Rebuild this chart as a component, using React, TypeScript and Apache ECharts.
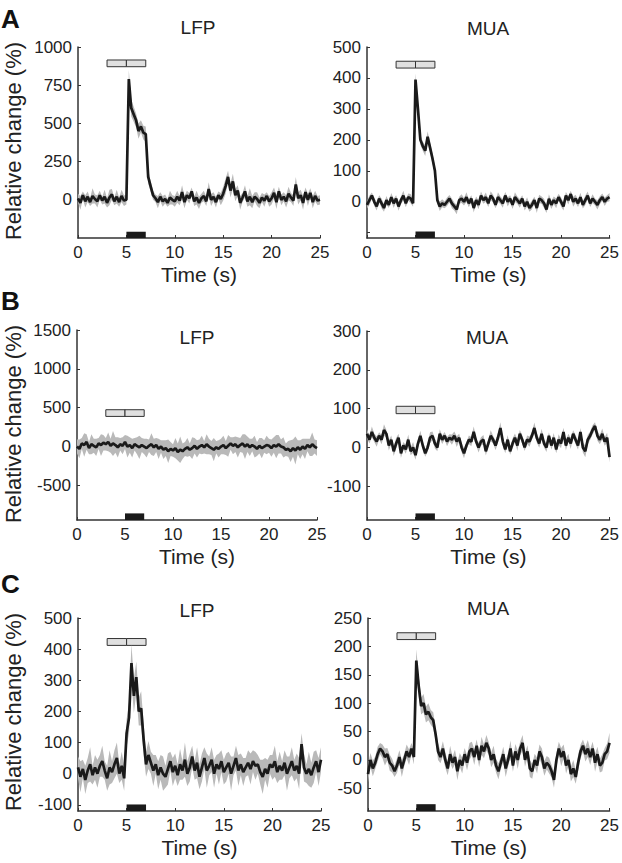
import React, { useEffect, useRef } from "react";
import * as echarts from "echarts";

// Sample grid: 0 .. 25 s, every 0.25 s
const TIME = Array.from({ length: 101 }, (_, i) => i * 0.25);

// Row A
const A_LFP = [10,-20,30,-10, 20,-15,25,5, -10,30,-5,20, -20,15,35,-10, 20,-15,25,-5, 0,790,600,560, 520,450,480,440, 430,150,90,30, 10,-15,20,-10, 5,-20,15,0, -10,20,-5,50, -15,30,10,55, -10,15,-20,10, 25,-10,70,0, 20,-15,30,5, 40,90,150,60, 120,30,60,-20, 15,55,-10,20, -15,20,5,-20, 15,-5,25,-10, 10,45,-15,55, 0,20,-10,40, 15,-5,100,10, 30,-20,50,0, 45,-15,25,-5, 0];
const A_LFP_SEM = [30,45,25,40, 35,25,50,30, 40,30,25,45, 30,50,35,25, 45,30,40,35, 30,60,55,50, 45,50,40,45, 50,45,35,30, 25,40,30,35, 30,25,45,30, 35,40,30,45, 40,30,35,25, 30,45,40,30, 35,30,45,40, 30,35,25,40, 45,50,40,45, 50,40,35,45, 30,40,35,55, 40,30,45,35, 30,40,25,35, 40,35,45,30, 35,30,40,45, 30,35,50,40, 35,45,30,40, 30,40,35,30, 30];
const A_MUA = [-10,5,20,0, -15,10,-5,-20, 5,-10,15,-5, 10,-15,5,20, -5,15,10,-5, 395,300,200,180, 165,210,175,140, 100,5,-15,-5, -10,0,10,-5, -15,-25,5,10, 0,15,-5,10, -20,5,-10,20, 5,15,-5,20, 10,-10,15,5, -5,20,0,10, -10,15,5,-5, 10,-15,0,-20, -10,5,-20,10, 5,-5,-25,10, -10,5,-5,15, 0,-15,20,5, 25,0,10,-5, 15,-10,5,20, -5,10,0,-10, 5,15,0,10, 15];
const A_MUA_SEM = [
  12,15,10,14, 13,11,16,12, 14,10,13,15, 11,14,12,16, 13,12,15,11,
  20,18,16,15, 17,18,15,16, 14,12,15,13, 11,14,12,16, 13,15,11,14,
  12,16,13,11, 15,12,14,13, 11,15,12,14, 13,11,16,12, 14,12,15,11,
  13,16,12,14, 11,13,15,12, 14,11,16,13, 12,15,11,14, 13,12,16,11,
  15,13,12,14, 11,16,13,12, 14,12,15,13, 12,14,11,15, 13,12,14,11,
  13,
];

// Row B
const B_LFP = [0,-30,40,20, 60,-20,30,10, -10,40,20,50, 30,60,10,40, 20,-10,30,10, 60,0,20,-20, 30,10,-10,20, 0,-20,10,30, -10,20,-30,0, -40,-20,-60,-30, -50,-20,-70,-40, -60,-30,-10,-40, -20,10,-30,0, 20,-10,30,0, -20,-40,-10,-30, 0,20,-20,10, 40,10,30,-10, 20,40,0,30, -10,20,0,-30, 10,-20,0,20, 10,-20,20,0, 30,0,-10,-40, -30,-60,-20,-50, -10,-40,0,-30, 20,-10,30,0, -20];
const B_LFP_SEM = [90,120,70,150, 100,80,130,90, 110,70,140,100, 80,120,90,160, 100,130,80,110, 90,140,100,120, 80,110,150,90, 100,120,80,140, 110,90,130,80, 120,100,150,90, 80,130,110,170, 100,90,120,80, 140,100,110,90, 120,80,130,100, 90,150,80,110, 100,120,90,140, 80,110,100,130, 90,120,160,100, 110,80,140,90, 100,130,80,120, 90,110,100,150, 120,90,130,80, 100,140,110,180, 90,120,100,130, 80,110,150,90, 100];
const B_MUA = [35,20,40,25, 15,30,20,45, 35,5,20,-10, 10,25,-15,5, -5,20,-10,0, -20,10,30,5, -15,0,25,30, 10,0,35,20, 30,15,25,20, 30,15,25,0, -15,5,20,15, 40,15,0,15, 20,-10,10,30, 20,5,25,50, 15,-5,20,-10, 10,25,5,35, 20,0,20,15, 30,50,25,10, 35,10,0,30, 5,25,-5,20, 10,40,5,25, 10,35,20,5, 40,0,-10,20, 30,45,55,30, 20,35,15,25, -25];
const B_MUA_SEM = [
  12,10,14,11, 13,9,12,15, 10,13,11,12, 14,10,12,9, 11,13,10,14,
  12,11,13,10, 9,12,14,11, 13,10,12,11, 10,12,9,13, 11,14,10,12,
  13,9,11,12, 14,10,13,11, 12,11,9,14, 10,12,13,15, 11,10,12,9,
  13,11,14,10, 12,9,11,13, 10,14,12,11, 13,10,12,9, 11,12,10,14,
  12,11,13,10, 14,9,12,11, 10,13,15,12, 11,12,10,13, 12,14,11,13,
  14,
];

// Row C
const C_LFP = [20,-10,15,-20, 10,30,-5,20, 0,25,40,10, -15,20,5,30, 50,0,25,-15, 130,180,355,250, 310,200,210,110, 30,60,35,10, 30,-5,20,0, -10,15,40,5, 25,-5,30,10, 45,0,20,55, 10,35,-10,20, 50,10,25,45, 0,30,15,40, 5,20,35,0, 25,50,10,30, 5,20,35,15, 40,25,30,5, -10,15,0,30, 20,40,5,25, 10,35,0,20, 40,10,25,0, 95,20,0,15, -5,20,40,5, 45];
const C_LFP_SEM = [
  35,50,30,45, 40,55,30,40, 45,35,50,30, 40,55,35,45, 50,30,45,40,
  45,50,60,55, 50,45,55,50, 40,45,35,50, 30,45,40,55, 35,50,30,45,
  40,35,50,30, 55,40,45,35, 30,50,40,45, 35,55,30,40, 45,30,50,35,
  40,45,35,55, 30,40,50,35, 45,30,40,50, 35,45,30,40, 55,35,45,30,
  40,50,35,45, 30,40,55,35, 45,35,40,50, 35,45,30,55, 40,50,35,45,
  40,
];
const C_MUA = [-25,0,-15,-5, 10,20,15,5, 10,-5,-10,-20, -10,5,-15,0, 15,5,20,5, 175,130,95,100, 80,85,75,70, 45,15,5,20, 0,-15,10,-5, 5,-20,0,-10, 10,-5,15,20, 5,25,0,25, 15,30,20,0, 10,-10,-20,-5, 10,-15,0,20, -10,15,0,20, 30,0,15,-15, -20,0,-10,15, 5,-15,-5,-10, -20,-35,0,20, 5,15,-10,0, -25,-15,-30,-5, 15,25,10,20, 5,20,-5,10, -10,-5,10,15, 30];
const C_MUA_SEM = [
  15,12,14,11, 13,10,12,15, 11,14,12,10, 13,12,15,11, 12,14,10,13,
  20,18,15,16, 14,15,13,14, 12,15,11,13, 14,12,15,11, 13,16,12,14,
  11,13,15,12, 14,11,13,16, 12,14,11,13, 15,12,14,11, 13,15,12,14,
  11,13,16,12, 14,12,11,15, 13,11,14,12, 15,13,12,14, 11,14,13,12,
  16,12,14,11, 13,15,12,14, 12,11,13,15, 14,12,16,13, 12,15,11,14,
  18,
];

// Tick values
const A_LFP_TICKS = [0, 250, 500, 750, 1000];
const A_MUA_TICKS = [-100, 0, 100, 200, 300, 400, 500];
const A_MUA_LABELS = [0, 100, 200, 300, 400, 500];
const B_LFP_TICKS = [-500, 0, 500, 1000, 1500];
const B_MUA_TICKS = [-100, 0, 100, 200, 300];
const C_LFP_TICKS = [-100, 0, 100, 200, 300, 400, 500];
const C_MUA_TICKS = [-50, 0, 50, 100, 150, 200, 250];

// Stimulus markers: light box 3–7 s (split at 5 s), dark bar 5–7 s
const BOX_TIMES = [3, 5, 7];
const BAR_TIMES = [5, 7];

const FONT = "'Liberation Sans', Arial, Helvetica, sans-serif";
const TXT = "#222";

const PANELS = [
  { title: "LFP", mean: A_LFP, sem: A_LFP_SEM, yMin: -250, yMax: 1000, ticks: A_LFP_TICKS, labels: A_LFP_TICKS, box: [871, 915], bar: [-250, -209], grid: { left: 78, top: 47, width: 242, height: 191 }, tPos: [198, 27] },
  { title: "MUA", mean: A_MUA, sem: A_MUA_SEM, yMin: -117, yMax: 500, ticks: A_MUA_TICKS, labels: A_MUA_LABELS, box: [432, 454], bar: [-117, -96], grid: { left: 367, top: 47, width: 243, height: 191 }, tPos: [488, 28] },
  { title: "LFP", mean: B_LFP, sem: B_LFP_SEM, yMin: -945, yMax: 1500, ticks: B_LFP_TICKS, labels: B_LFP_TICKS, box: [388, 474], bar: [-945, -860], grid: { left: 77, top: 330, width: 240, height: 190 }, tPos: [197, 337] },
  { title: "MUA", mean: B_MUA, sem: B_MUA_SEM, yMin: -187, yMax: 300, ticks: B_MUA_TICKS, labels: B_MUA_TICKS, box: [87, 106], bar: [-187, -170], grid: { left: 367, top: 331, width: 243, height: 189 }, tPos: [487, 337] },
  { title: "LFP", mean: C_LFP, sem: C_LFP_SEM, yMin: -120, yMax: 500, ticks: C_LFP_TICKS, labels: C_LFP_TICKS, box: [412, 434], bar: [-120, -99], grid: { left: 78, top: 618, width: 243, height: 193 }, tPos: [197, 610] },
  { title: "MUA", mean: C_MUA, sem: C_MUA_SEM, yMin: -90, yMax: 250, ticks: C_MUA_TICKS, labels: C_MUA_TICKS, box: [212, 224], bar: [-90, -78], grid: { left: 368, top: 618, width: 245, height: 193 }, tPos: [488, 608] },
];

const LETTERS = [
  { text: "A", y: 19 },
  { text: "B", y: 301 },
  { text: "C", y: 584 },
];
const Y_NAME_CENTERS = [141, 424, 712];

function buildOption() {
  const grids: any[] = [];
  const xAxes: any[] = [];
  const yAxes: any[] = [];
  const series: any[] = [];
  const graphics: any[] = [];

  PANELS.forEach((p, i) => {
    grids.push({ ...p.grid, containLabel: false });
    xAxes.push({
      type: "value",
      gridIndex: i,
      min: 0,
      max: 25,
      interval: 5,
      name: "Time (s)",
      nameLocation: "middle",
      nameGap: 26,
      nameTextStyle: { fontFamily: FONT, fontSize: 21, color: TXT, fontWeight: "normal" },
      axisLine: { show: true, onZero: false, lineStyle: { color: "#333", width: 1.5 } },
      axisTick: { show: true, inside: true, length: 3, lineStyle: { color: "#333" } },
      axisLabel: { fontFamily: FONT, fontSize: 17, color: TXT, margin: 6 },
      splitLine: { show: false },
    });
    yAxes.push({
      type: "value",
      gridIndex: i,
      min: p.yMin,
      max: p.yMax,
      axisLine: { show: true, onZero: false, lineStyle: { color: "#333", width: 1.5 } },
      axisTick: { show: true, inside: true, length: 3, customValues: p.ticks, lineStyle: { color: "#333" } },
      axisLabel: {
        fontFamily: FONT,
        fontSize: 17,
        color: TXT,
        margin: 6,
        customValues: p.labels,
        formatter: (v: number) => String(v),
      },
      splitLine: { show: false },
    });

    const mean = p.mean;
    const sem = p.sem;
    series.push({
      type: "custom",
      xAxisIndex: i,
      yAxisIndex: i,
      data: [[0, 0]],
      silent: true,
      z: 1,
      renderItem: (_params: any, api: any) => {
        const up = TIME.map((t, k) => api.coord([t, mean[k] + sem[k]]));
        const lo = TIME.map((t, k) => api.coord([t, mean[k] - sem[k]])).reverse();
        return {
          type: "polygon",
          shape: { points: up.concat(lo) },
          style: { fill: "#b9b9b9", stroke: "none" },
        };
      },
    });
    series.push({
      type: "line",
      xAxisIndex: i,
      yAxisIndex: i,
      data: TIME.map((t, k) => [t, mean[k]]),
      symbol: "none",
      silent: true,
      lineStyle: { color: "#1a1a1a", width: 2.7 },
      z: 3,
      markArea: {
        silent: true,
        label: { show: false },
        data: [
          [
            { xAxis: BOX_TIMES[0], yAxis: p.box[0], itemStyle: { color: "#e0e0e0", borderColor: "#333", borderWidth: 1 } },
            { xAxis: BOX_TIMES[1], yAxis: p.box[1] },
          ],
          [
            { xAxis: BOX_TIMES[1], yAxis: p.box[0], itemStyle: { color: "#e0e0e0", borderColor: "#333", borderWidth: 1 } },
            { xAxis: BOX_TIMES[2], yAxis: p.box[1] },
          ],
          [
            { xAxis: BAR_TIMES[0], yAxis: p.bar[0], itemStyle: { color: "#1a1a1a", borderWidth: 0 } },
            { xAxis: BAR_TIMES[1], yAxis: p.bar[1] },
          ],
        ],
      },
    });

    graphics.push({
      type: "text",
      x: p.tPos[0],
      y: p.tPos[1],
      style: { text: p.title, fontFamily: FONT, fontSize: 19, fill: TXT, align: "center", verticalAlign: "middle" },
    });
  });

  Y_NAME_CENTERS.forEach((cy) => {
    graphics.push({
      type: "text",
      x: 13,
      y: cy,
      rotation: Math.PI / 2,
      style: { text: "Relative change (%)", fontFamily: FONT, fontSize: 22, fill: TXT, align: "center", verticalAlign: "middle" },
    });
  });

  LETTERS.forEach((l) => {
    graphics.push({
      type: "text",
      x: 1,
      y: l.y,
      style: { text: l.text, fontFamily: FONT, fontSize: 26, fontWeight: "bold", fill: "#111", align: "left", verticalAlign: "middle" },
    });
  });

  return {
    animation: false,
    backgroundColor: "#fff",
    grid: grids,
    xAxis: xAxes,
    yAxis: yAxes,
    series,
    graphic: graphics,
  };
}

export default function App() {
  const ref = useRef<HTMLDivElement>(null);
  useEffect(() => {
    if (!ref.current) return;
    const chart = echarts.init(ref.current, null, { renderer: "svg" });
    chart.setOption(buildOption() as any);
    return () => chart.dispose();
  }, []);
  return (
    <div
      ref={ref}
      style={{ position: "absolute", left: 0, top: 0, width: 622, height: 863, background: "#fff" }}
    />
  );
}
